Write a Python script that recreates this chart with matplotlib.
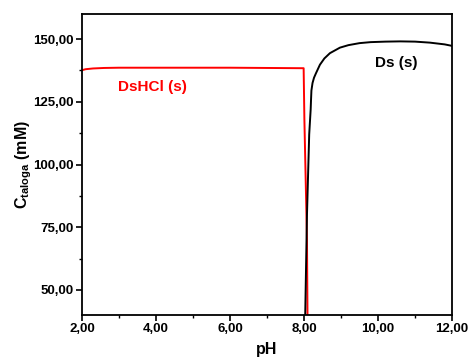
import numpy as np
import matplotlib
matplotlib.use("Agg")
import matplotlib.pyplot as plt
from matplotlib.ticker import MultipleLocator, FuncFormatter

plt.rcParams['font.family'] = ['Liberation Sans', 'DejaVu Sans']
plt.rcParams['mathtext.fontset'] = 'custom'
plt.rcParams['mathtext.rm'] = 'Liberation Sans:bold'
plt.rcParams['mathtext.bf'] = 'Liberation Sans:bold'

# DsHCl (s) curve (red)
ph_dshcl = [2.0, 2.1, 2.3, 2.6, 3.0, 4.0, 5.0, 6.0, 7.0, 7.99, 8.01, 8.08, 8.095]
c_dshcl = [137.6, 138.0, 138.3, 138.5, 138.6, 138.6, 138.6, 138.6, 138.5, 138.4, 118.0, 70.0, 38.0]

# Ds (s) curve (black)
ph_ds = [8.03, 8.08, 8.14, 8.18, 8.19, 8.2, 8.23, 8.27, 8.32, 8.43, 8.55, 8.7, 8.97, 9.2, 9.5, 9.8, 10.2, 10.6, 11.0, 11.4, 11.8, 12.0]
c_ds = [38.0, 80.0, 112.0, 122.0, 126.0, 129.5, 132.5, 134.6, 136.3, 139.8, 142.3, 144.4, 146.6, 147.6, 148.4, 148.8, 149.0, 149.1, 149.0, 148.6, 147.9, 147.3]

fig = plt.figure(figsize=(4.68, 3.6), dpi=100)
ax = fig.add_axes([0.175, 0.125, 0.791, 0.836])

ax.plot(ph_dshcl, c_dshcl, color='#ff0000', lw=1.4)
ax.plot(ph_ds, c_ds, color='black', lw=1.4)

ax.text(3.9, 131, 'DsHCl (s)', color='#ff0000', fontsize=11, fontweight='bold',
        ha='center', va='center')
ax.text(10.5, 140.5, 'Ds (s)', color='black', fontsize=11, fontweight='bold',
        ha='center', va='center')

ax.set_xlim(2, 12)
ax.set_ylim(40, 160)
ax.xaxis.set_major_locator(MultipleLocator(2))
ax.xaxis.set_minor_locator(MultipleLocator(1))
ax.yaxis.set_major_locator(MultipleLocator(25))
ax.yaxis.set_minor_locator(MultipleLocator(12.5))

fmt = FuncFormatter(lambda v, p: f"{v:.2f}".replace('.', ','))
ax.xaxis.set_major_formatter(fmt)
ax.yaxis.set_major_formatter(fmt)

ax.tick_params(which='major', direction='out', length=4, width=1.2, labelsize=9.5)
ax.tick_params(which='minor', direction='out', length=2.5, width=1.0)
ax.tick_params(axis='x', which='major', pad=2)
ax.tick_params(axis='y', which='major', pad=2)
for lab in ax.get_xticklabels() + ax.get_yticklabels():
    lab.set_fontweight('bold')
for s in ax.spines.values():
    s.set_linewidth(1.3)

ax.set_xlabel('pH', fontsize=11.5, fontweight='bold')
ax.set_ylabel(r'$\mathbf{C}_{\mathbf{taloga}}$ (mM)', fontsize=11.5, fontweight='bold')
ax.xaxis.set_label_coords(0.5, -0.09)
ax.yaxis.set_label_coords(-0.13, 0.5)

fig.savefig('out.png', dpi=100)
